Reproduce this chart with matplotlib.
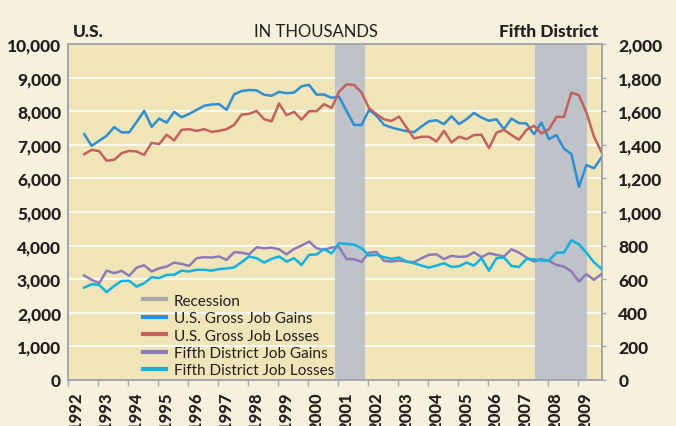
import matplotlib
matplotlib.use("Agg")
import matplotlib.pyplot as plt
import numpy as np
from matplotlib.lines import Line2D

plt.rcParams['font.family'] = ['Lato', 'DejaVu Sans']

# Quarterly data, 1992Q3 .. 2009Q4 (70 quarters), thousands
first_year, first_quarter = 1992, 3

us_gains = [7320, 6970, 7120, 7270, 7525, 7370, 7370, 7680, 8010, 7535,
            7780, 7660, 7980, 7820, 7920, 8040, 8160, 8200, 8210, 8040,
            8500, 8600, 8630, 8620, 8490, 8460, 8575, 8535, 8555, 8740,
            8785, 8495, 8495, 8400, 8425, 8010, 7595, 7585, 8040, 7860,
            7595, 7515, 7455, 7405, 7375, 7545, 7700, 7730, 7615, 7850,
            7615, 7760, 7950, 7810, 7715, 7760, 7465, 7780, 7645, 7635,
            7317, 7660, 7170, 7290, 6890, 6720, 5750, 6400, 6300, 6620]

us_losses = [6720, 6850, 6810, 6525, 6555, 6750, 6820, 6800, 6700, 7060,
             7020, 7300, 7130, 7445, 7465, 7415, 7465, 7385, 7415, 7465,
             7595, 7900, 7920, 8010, 7760, 7700, 8230, 7880, 7980, 7750,
             8000, 8000, 8210, 8095, 8580, 8800, 8785, 8555, 8090, 7910,
             7760, 7710, 7840, 7515, 7190, 7240, 7240, 7100, 7415, 7070,
             7240, 7170, 7290, 7300, 6900, 7360, 7445, 7290, 7150, 7445,
             7565, 7340, 7465, 7830, 7830, 8555, 8475, 7960, 7250, 6790]

fd_gains = [622, 596, 576, 651, 636, 650, 620, 669, 683, 646,
            665, 675, 699, 691, 679, 725, 731, 729, 735, 715,
            760, 758, 748, 790, 784, 788, 778, 748, 780, 800,
            824, 784, 774, 789, 791, 720, 719, 703, 758, 762,
            709, 705, 711, 705, 701, 725, 745, 748, 720, 739,
            733, 735, 760, 731, 754, 745, 735, 778, 758, 729,
            705, 720, 709, 685, 675, 646, 586, 630, 596, 630]

fd_losses = [550, 570, 566, 523, 560, 590, 590, 556, 576, 612,
             606, 626, 626, 651, 646, 656, 656, 651, 660, 664,
             670, 701, 735, 725, 699, 721, 735, 705, 725, 685,
             745, 747, 780, 753, 814, 810, 806, 784, 741, 745,
             731, 721, 729, 705, 695, 681, 669, 681, 695, 673,
             677, 699, 681, 725, 651, 725, 729, 679, 673, 720,
             719, 711, 711, 758, 758, 832, 808, 758, 701, 662]

recession_start = [2000.91, 2007.58]
recession_end = [2001.89, 2009.31]

years = list(range(1992, 2010))
left_ticks = list(range(0, 10001, 1000))
right_ticks = list(range(0, 2001, 200))

series_labels = ["U.S. Gross Job Gains", "U.S. Gross Job Losses",
                 "Fifth District Job Gains", "Fifth District Job Losses"]

# ---- styles
c_fig = "#F6F1DC"
c_ax = "#F0E5B8"
c_rec = "#BEC2C9"
c_spine = "#A3A7AB"
c_txt = "#231F20"
colors = ["#2F8FD0", "#C2625C", "#8C7BB8", "#12B2E0"]
heavy = "black"

n = len(us_gains)
x = np.array([first_year + (first_quarter - 1) / 4 + 0.04 + 0.25 * i for i in range(n)])

fig = plt.figure(figsize=(6.76, 4.27), dpi=100, facecolor=c_fig)
ax = fig.add_axes([68 / 676, 1 - 381 / 427, (601.7 - 68) / 676, (381 - 45) / 427])
ax.set_facecolor(c_ax)
ax2 = ax.twinx()

for s, e in zip(recession_start, recession_end):
    ax.axvspan(s, e, color=c_rec, lw=0, zorder=1)

ax.plot(x, us_gains, color=colors[0], lw=1.8, zorder=3)
ax.plot(x, us_losses, color=colors[1], lw=1.8, zorder=3)
ax2.plot(x, fd_gains, color=colors[2], lw=1.8, zorder=3)
ax2.plot(x, fd_losses, color=colors[3], lw=1.8, zorder=3)

ax.set_xlim(1992.0, x[-1] + 0.01)
ax.set_ylim(0, 10000)
ax2.set_ylim(0, 2000)

for v in left_ticks[1:-1]:
    ax.axhline(v, color="white", lw=1.2, zorder=0.5)

ax.set_yticks(left_ticks)
ax.set_yticklabels([f"{v:,}" for v in left_ticks])
ax2.set_yticks(right_ticks)
ax2.set_yticklabels([f"{v:,}" for v in right_ticks])

ax.set_xticks(years)
ax.set_xticklabels([])
ax.set_xticks([y + 0.27 for y in years], minor=True)
ax.set_xticklabels([str(y) for y in years], minor=True, rotation=90,
                   fontsize=12, fontweight=heavy, color=c_txt)
ax.tick_params(axis="x", which="major", length=4, width=1, color=c_spine, direction="out")
ax.tick_params(axis="x", which="minor", length=0, pad=8)

ax.tick_params(axis="y", which="major", length=0, pad=5, labelsize=12.5, labelcolor=c_txt)
ax2.tick_params(axis="y", which="major", length=3, width=1, color=c_spine, pad=9,
                labelsize=12.5, labelcolor=c_txt)
for lab in ax.get_yticklabels() + ax2.get_yticklabels():
    lab.set_fontweight(heavy)

for a in (ax, ax2):
    for sp in a.spines.values():
        sp.set_color(c_spine)
        sp.set_linewidth(1.2)

# header text
fig.text(73 / 676, 1 - 32 / 427, "U.S.", fontsize=12.5, fontweight=heavy,
         color=c_txt, ha="left", va="center")
fig.text(316 / 676, 1 - 32 / 427, "IN THOUSANDS", fontsize=12,
         color=c_txt, ha="center", va="center")
fig.text(598 / 676, 1 - 32 / 427, "Fifth District", fontsize=12.5, fontweight=heavy,
         color=c_txt, ha="right", va="center")

handles = [Line2D([], [], color="#A8A8A8", lw=3)] + \
          [Line2D([], [], color=c, lw=3) for c in colors]
labels = ["Recession"] + series_labels
leg = ax2.legend(handles, labels, loc="lower left", bbox_to_anchor=(0.13, -0.01),
                 frameon=False, fontsize=11, handlelength=1.5, handletextpad=0.5,
                 labelspacing=0.22, borderaxespad=0)
for t in leg.get_texts():
    t.set_color(c_txt)

fig.savefig("out.png", dpi=100, facecolor=c_fig)
